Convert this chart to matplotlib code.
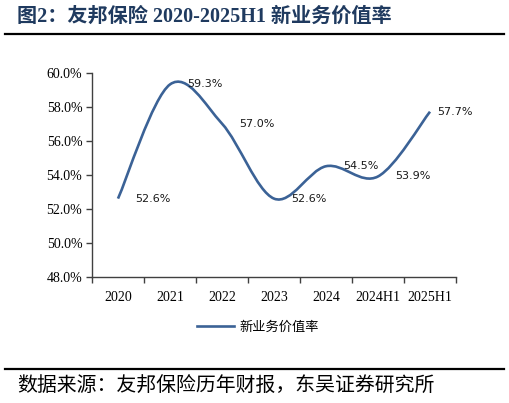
import numpy as np
import matplotlib
matplotlib.use("Agg")
import matplotlib.pyplot as plt
from matplotlib.path import Path
from matplotlib.patches import PathPatch
from matplotlib.lines import Line2D

# données
categories = ["2020", "2021", "2022", "2023", "2024", "2024H1", "2025H1"]
nbv_margin = [52.6, 59.3, 57.0, 52.6, 54.5, 53.9, 57.7]
y_ticks = [48, 50, 52, 54, 56, 58, 60]

line_color = "#3B6296"
serif_cjk = ["Liberation Serif", "Noto Sans CJK SC"]

fig = plt.figure(figsize=(5.10, 4.03), dpi=100)
ax = fig.add_axes([92 / 510, 1 - 277 / 403, (456 - 92) / 510, (277 - 72.5) / 403])

x = np.arange(len(nbv_margin))
y = np.array(nbv_margin)

# courbe lissée façon Excel (Bézier cubiques passant par les points)
verts = [(x[0], y[0])]
codes = [Path.MOVETO]
n = len(x)
for i in range(n - 1):
    x0, y0 = (x[i - 1], y[i - 1]) if i > 0 else (x[i], y[i])
    x3, y3 = (x[i + 2], y[i + 2]) if i + 2 < n else (x[i + 1], y[i + 1])
    c1 = (x[i] + (x[i + 1] - x0) / 6, y[i] + (y[i + 1] - y0) / 6)
    c2 = (x[i + 1] - (x3 - x[i]) / 6, y[i + 1] - (y3 - y[i]) / 6)
    verts += [c1, c2, (x[i + 1], y[i + 1])]
    codes += [Path.CURVE4] * 3
ax.add_patch(PathPatch(Path(verts, codes), facecolor="none", edgecolor=line_color,
                       lw=1.9, capstyle="butt"))

# étiquettes de données
offsets = [17, 17, 17, 17, 17, 17, 7]
for xi, yi, off in zip(x, y, offsets):
    ax.annotate(f"{yi:.1f}%", (xi, yi), xytext=(off * 0.72, 0), textcoords="offset points",
                ha="left", va="center", fontsize=8, family="DejaVu Sans", color="#1a1a1a")

ax.set_xlim(-0.5, len(categories) - 0.5)
ax.set_ylim(48, 60)
ax.set_yticks(y_ticks)
ax.set_yticklabels([f"{v:.1f}%" for v in y_ticks], family="Liberation Serif", fontsize=10)
ax.set_xticks(x)
ax.set_xticklabels(categories, family="Liberation Serif", fontsize=10)
ax.set_xticks(np.arange(len(categories) + 1) - 0.5, minor=True)
ax.tick_params(axis="x", which="major", length=0, pad=10)
ax.tick_params(axis="x", which="minor", length=4, color="#404040", width=1)
ax.tick_params(axis="y", length=4, color="#404040", width=1, pad=3)
for s in ["top", "right"]:
    ax.spines[s].set_visible(False)
for s in ["left", "bottom"]:
    ax.spines[s].set_color("#404040")
    ax.spines[s].set_linewidth(1)

# légende
handle = Line2D([], [], color=line_color, lw=1.9)
fig.legend([handle], ["新业务价值率"], loc="center", bbox_to_anchor=(258 / 510, 1 - 327 / 403),
           frameon=False, prop={"family": "Noto Sans CJK SC", "size": 9.5},
           handlelength=2.8, handletextpad=0.4)

# titre et source
fig.text(17 / 510, 1 - 17 / 403, "图2：友邦保险 2020-2025H1 新业务价值率", family=serif_cjk,
         fontsize=14.5, fontweight="bold", color="#1F3A5F", ha="left", va="center")
fig.add_artist(Line2D([5 / 510, 504 / 510], [1 - 34 / 403, 1 - 34 / 403], color="black", lw=1.6))
fig.add_artist(Line2D([5 / 510, 504 / 510], [1 - 369 / 403, 1 - 369 / 403], color="black", lw=1.6))
fig.text(17 / 510, 1 - 386 / 403, "数据来源：友邦保险历年财报，东吴证券研究所", family="Noto Sans CJK SC",
         fontsize=14.3, color="black", ha="left", va="center")

fig.savefig("out.png", dpi=100)
